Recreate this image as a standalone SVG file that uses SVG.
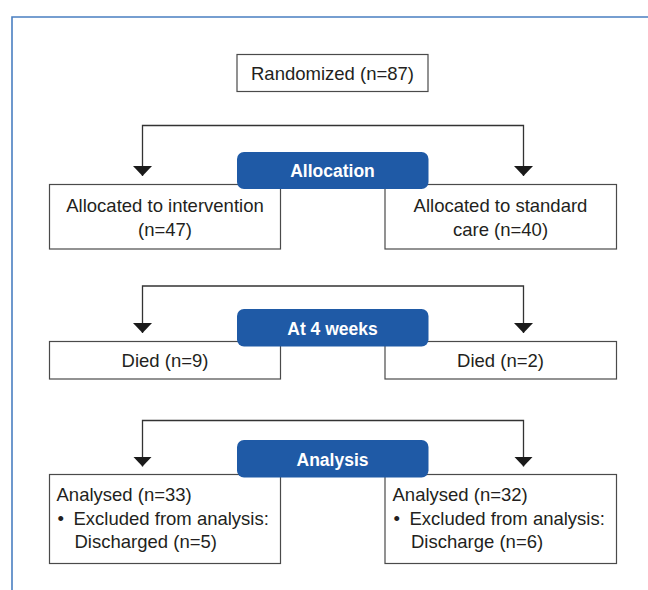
<svg xmlns="http://www.w3.org/2000/svg" width="648" height="590" viewBox="0 0 648 590">
<style>
.box{fill:#fff;stroke:#4a4a4a;stroke-width:1.2}
.pill{fill:#1f5aa6}
.t{font-family:"Liberation Sans",Arial,sans-serif;font-size:18.5px;fill:#231f20}
.c{text-anchor:middle}
.pt{font-family:"Liberation Sans",Arial,sans-serif;font-size:17.5px;font-weight:bold;fill:#fff;text-anchor:middle}
.con{fill:none;stroke:#333;stroke-width:1.3;marker-start:url(#arr);marker-end:url(#arr)}
</style>
<defs>
<marker id="arr" viewBox="0 0 10 19" refX="10" refY="9.5" markerWidth="10" markerHeight="19" markerUnits="userSpaceOnUse" orient="auto-start-reverse">
<path d="M0,0 L10,9.5 L0,19 z" fill="#1a1a1a"/>
</marker>
</defs>
<rect width="648" height="590" fill="#fff"/>
<path d="M12,590 V17 H648" fill="none" stroke="#4a7fc1" stroke-width="1.6"/>
<g id="connectors">
<path class="con" d="M142.5,176 V125.5 H523.5 V176"/>
<path class="con" d="M142.5,333 V286 H523.5 V333"/>
<path class="con" d="M142.5,466.5 V420.5 H523.5 V466.5"/>
</g>
<g id="randomized">
<rect class="box" x="237" y="54.5" width="191" height="37"/>
<text class="t c" x="332.5" y="79.5">Randomized (n=87)</text>
</g>
<g id="alloc-left">
<rect class="box" x="49.5" y="184.5" width="231" height="64.5"/>
<text class="t c" x="165" y="212">Allocated to intervention</text>
<text class="t c" x="165" y="236">(n=47)</text>
</g>
<g id="alloc-right">
<rect class="box" x="385" y="184.5" width="231.5" height="64.5"/>
<text class="t c" x="500.5" y="212">Allocated to standard</text>
<text class="t c" x="500.5" y="236">care (n=40)</text>
</g>
<g id="allocation">
<rect class="pill" x="237" y="152" width="191.5" height="37" rx="7"/>
<text class="pt" x="332.5" y="177">Allocation</text>
</g>
<g id="died-left">
<rect class="box" x="49.5" y="341.5" width="231" height="37.5"/>
<text class="t c" x="165" y="367">Died (n=9)</text>
</g>
<g id="died-right">
<rect class="box" x="385" y="341.5" width="231.5" height="37.5"/>
<text class="t c" x="500.5" y="367">Died (n=2)</text>
</g>
<g id="at4weeks">
<rect class="pill" x="237" y="309" width="191.5" height="37.5" rx="7"/>
<text class="pt" x="332.5" y="335">At 4 weeks</text>
</g>
<g id="analysed-left">
<rect class="box" x="49.5" y="474.5" width="231" height="89"/>
<text class="t" x="56.5" y="501">Analysed (n=33)</text>
<text class="t" y="524.5"><tspan x="57.5">•</tspan><tspan x="73.5">Excluded from analysis:</tspan></text>
<text class="t" x="74.5" y="548">Discharged (n=5)</text>
</g>
<g id="analysed-right">
<rect class="box" x="385" y="474.5" width="231.5" height="89"/>
<text class="t" x="392.5" y="501">Analysed (n=32)</text>
<text class="t" y="524.5"><tspan x="393.5">•</tspan><tspan x="409.5">Excluded from analysis:</tspan></text>
<text class="t" x="411" y="548">Discharge (n=6)</text>
</g>
<g id="analysis">
<rect class="pill" x="237" y="440" width="191.5" height="37.5" rx="7"/>
<text class="pt" x="332.5" y="466">Analysis</text>
</g>
</svg>
